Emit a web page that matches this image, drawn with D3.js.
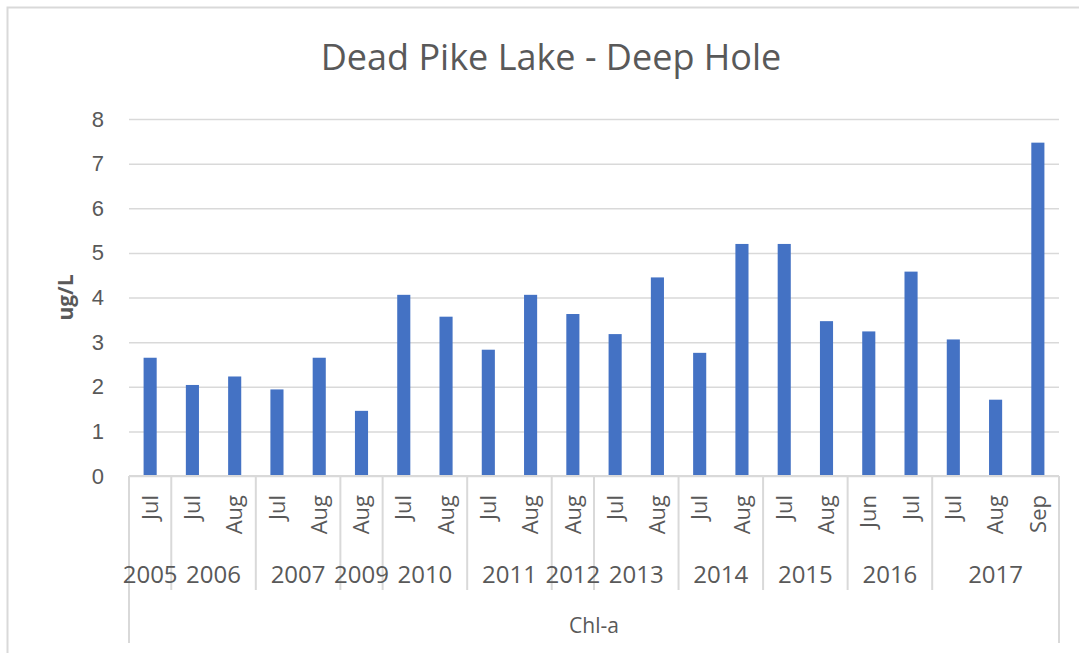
<!DOCTYPE html>
<html>
<head>
<meta charset="utf-8">
<script src="https://cdn.jsdelivr.net/npm/d3@7"></script>
<style>
    body { margin: 0; background: #fff; }
    svg { display: block; font-family: "Open Sans", sans-serif; }
</style>
</head>
<body>
<div id="chart"></div>
<script>
// year groups and their months, in order
const years = ['2005', '2006', '2007', '2009', '2010', '2011', '2012', '2013', '2014', '2015', '2016', '2017'];
const months = [
    ['Jul'], ['Jul', 'Aug'], ['Jul', 'Aug'], ['Aug'], ['Jul', 'Aug'], ['Jul', 'Aug'],
    ['Aug'], ['Jul', 'Aug'], ['Jul', 'Aug'], ['Jul', 'Aug'], ['Jun', 'Jul'], ['Jul', 'Aug', 'Sep']
];
// Chl-a, ug/L
const chla = [2.65, 2.04, 2.23, 1.94, 2.65, 1.46, 4.06, 3.57, 2.83, 4.06, 3.63,
              3.18, 4.45, 2.76, 5.20, 5.20, 3.47, 3.24, 4.58, 3.06, 1.71, 7.47];
const yTicks = [0, 1, 2, 3, 4, 5, 6, 7, 8];

const W = 1079, H = 653;
const margin = {top: 119, right: 20, bottom: 177, left: 129};
const width = 1059 - margin.left;
const height = 476 - margin.top;
const textColor = '#595959';
const lineColor = '#d9d9d9';

// flatten groups into one row per bar
const rows = [];
years.forEach((yr, gi) => {
    months[gi].forEach(m => rows.push({year: yr, month: m, key: yr + '-' + m}));
});
rows.forEach((r, i) => r.value = chla[i]);

const svg = d3.select('#chart').append('svg')
    .attr('width', W)
    .attr('height', H);

// chart area border
svg.append('rect')
    .attr('x', 7.5).attr('y', 7.5)
    .attr('width', W + 10).attr('height', H + 10)
    .attr('fill', 'none')
    .attr('stroke', lineColor)
    .attr('stroke-width', 2);

svg.append('text')
    .attr('x', 551)
    .attr('y', 70)
    .attr('text-anchor', 'middle')
    .style('font-size', '36px')
    .style('fill', textColor)
    .text('Dead Pike Lake - Deep Hole');

const g = svg.append('g')
    .attr('transform', `translate(${margin.left},${margin.top})`);

const x = d3.scaleBand()
    .domain(rows.map(d => d.key))
    .range([0, width])
    .paddingInner(0.69)
    .paddingOuter(0.345);

const y = d3.scaleLinear()
    .domain([0, 8])
    .range([height, 0]);

// gridlines + value labels
const yAxis = g.append('g')
    .call(d3.axisLeft(y).tickValues(yTicks).tickSize(-width).tickPadding(25));
yAxis.select('.domain').remove();
yAxis.selectAll('line').attr('stroke', lineColor).attr('stroke-width', 1.5);
yAxis.selectAll('text')
    .style('font-size', '22px')
    .style('fill', textColor);

g.append('text')
    .attr('transform', `translate(${66 - margin.left},${height / 2}) rotate(-90)`)
    .attr('text-anchor', 'middle')
    .attr('dy', '0.35em')
    .style('font-size', '21px')
    .style('font-weight', 'bold')
    .style('fill', textColor)
    .text('ug/L');

// bars
g.selectAll('.bar')
    .data(rows)
    .enter().append('rect')
    .attr('class', 'bar')
    .attr('x', d => x(d.key))
    .attr('y', d => y(d.value))
    .attr('width', x.bandwidth())
    .attr('height', d => height - y(d.value))
    .attr('fill', '#4472C4');

// multi-level category axis
const step = x.step();
g.append('line')
    .attr('x1', 0).attr('x2', width)
    .attr('y1', height).attr('y2', height)
    .attr('stroke', lineColor).attr('stroke-width', 2);

g.selectAll('.month')
    .data(rows)
    .enter().append('text')
    .attr('class', 'month')
    .attr('transform', d => `translate(${x(d.key) + x.bandwidth() / 2},${height + 19}) rotate(-90)`)
    .attr('text-anchor', 'end')
    .attr('dy', '0.35em')
    .style('font-size', '22px')
    .style('fill', textColor)
    .text(d => d.month);

// group boundaries
let start = 0;
const groups = years.map((yr, gi) => {
    const grp = {year: yr, start: start, end: start + months[gi].length};
    start = grp.end;
    return grp;
});

g.selectAll('.sep')
    .data(groups.slice(1))
    .enter().append('line')
    .attr('x1', d => d.start * step).attr('x2', d => d.start * step)
    .attr('y1', height).attr('y2', height + 114)
    .attr('stroke', lineColor).attr('stroke-width', 2);

[0, width].forEach(px => {
    g.append('line')
        .attr('x1', px).attr('x2', px)
        .attr('y1', height).attr('y2', height + 167)
        .attr('stroke', lineColor).attr('stroke-width', 2);
});

g.selectAll('.year')
    .data(groups)
    .enter().append('text')
    .attr('class', 'year')
    .attr('x', d => (d.start + d.end) / 2 * step)
    .attr('y', height + 107)
    .attr('text-anchor', 'middle')
    .style('font-size', '24px')
    .style('fill', textColor)
    .text(d => d.year);

g.append('text')
    .attr('x', width / 2)
    .attr('y', height + 157)
    .attr('text-anchor', 'middle')
    .style('font-size', '21px')
    .style('fill', textColor)
    .text('Chl-a');
</script>
</body>
</html>
